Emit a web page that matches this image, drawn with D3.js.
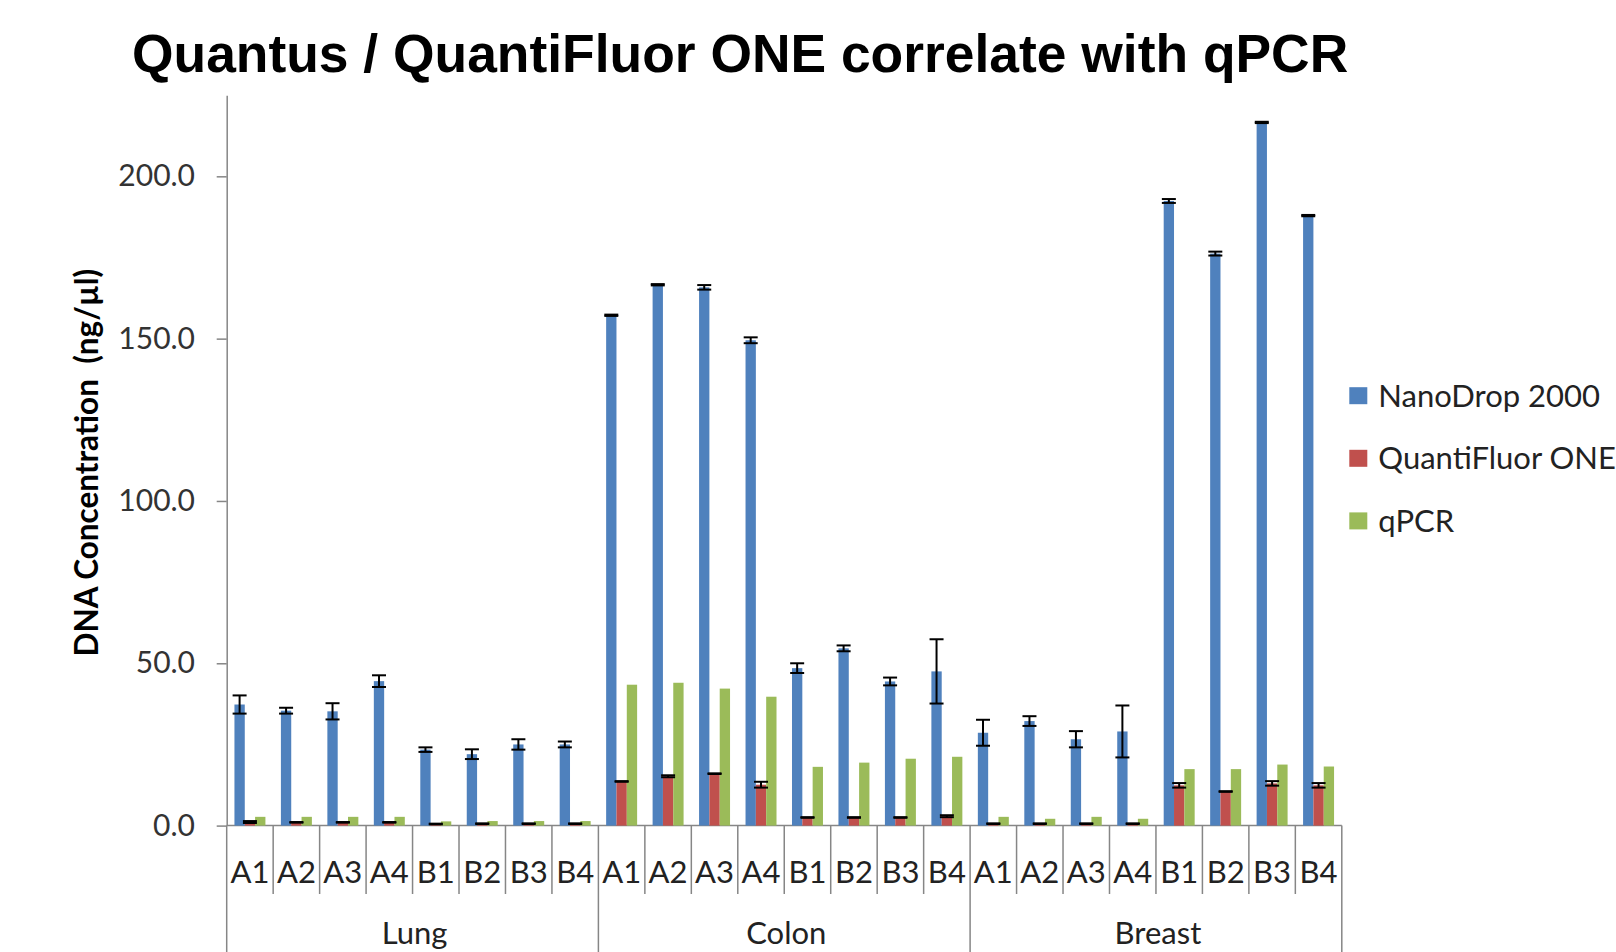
<!DOCTYPE html>
<html>
<head>
<meta charset="utf-8">
<script src="https://cdn.jsdelivr.net/npm/d3@7"></script>
<style>
  body { margin: 0; background: #fff; }
  svg { display: block; }
</style>
</head>
<body>
<div id="chart"></div>
<script>
// chart values
const groups = ["Lung", "Colon", "Breast"];
const samples = ["A1", "A2", "A3", "A4", "B1", "B2", "B3", "B4"];
const seriesNames = ["NanoDrop 2000", "QuantiFluor ONE", "qPCR"];
const seriesColors = ["#4F81BD", "#C0504D", "#9BBB59"];
const yTicks = [0, 50, 100, 150, 200];

// Lung | Colon | Breast, 8 samples each
const nanodrop = [
  37.3, 35.4, 35.2, 44.5, 23.4, 22.0, 25.0, 25.0,
  157.2, 166.6, 165.8, 149.5, 48.5, 54.6, 44.4, 47.5,
  28.6, 32.2, 26.6, 29.0, 192.4, 176.2, 216.6, 187.9
];
const nanodropErr = [
  2.8, 0.9, 2.5, 1.8, 0.7, 1.5, 1.6, 0.9,
  0.2, 0.2, 0.7, 0.9, 1.5, 0.9, 1.2, 9.9,
  4.0, 1.5, 2.5, 8.0, 0.6, 0.6, 0.2, 0.2
];
const quantifluor = [
  1.1, 1.0, 1.0, 1.0, 0.5, 0.6, 0.6, 0.6,
  13.6, 15.2, 16.0, 12.6, 2.5, 2.5, 2.5, 2.9,
  0.6, 0.6, 0.6, 0.6, 12.4, 10.5, 13.0, 12.4
];
const quantifluorErr = [
  0.3, 0.1, 0.1, 0.1, 0.1, 0.1, 0.1, 0.1,
  0.1, 0.3, 0.1, 0.9, 0.1, 0.1, 0.1, 0.3,
  0.1, 0.1, 0.1, 0.1, 0.7, 0.1, 0.7, 0.7
];
const qpcr = [
  2.7, 2.7, 2.7, 2.7, 1.3, 1.4, 1.4, 1.4,
  43.4, 44.0, 42.2, 39.7, 18.1, 19.4, 20.6, 21.2,
  2.7, 2.1, 2.7, 2.1, 17.4, 17.4, 18.8, 18.2
];

const W = 1616, H = 952;
const left = 226.7, right = 1341.8, base = 825.6;
const font = "Lato, 'Open Sans', sans-serif";

let svg = d3.select("#chart").append("svg")
    .attr("width", W)
    .attr("height", H)
    .style("background", "#fff");

// build rows: one per group/sample
let rows = [];
groups.forEach((g, gi) => {
    samples.forEach((s, si) => {
        let i = gi * samples.length + si;
        rows.push({
            key: g + "-" + s, group: g, sample: s,
            values: [
                {series: 0, v: nanodrop[i], err: nanodropErr[i]},
                {series: 1, v: quantifluor[i], err: quantifluorErr[i]},
                {series: 2, v: qpcr[i], err: null}
            ]
        });
    });
});

let x = d3.scaleBand().domain(rows.map(d => d.key)).range([left, right]).padding(0);
let xs = d3.scaleBand().domain([0, 1, 2]).range([0, x.bandwidth()])
    .paddingInner(0).paddingOuter(0.75);
let y = d3.scaleLinear().domain([0, 225]).range([base, base - 225 * 3.2464]);

// title
svg.append("text")
    .attr("x", 132).attr("y", 72)
    .style("font-family", "'Liberation Sans', Arial, sans-serif")
    .style("font-weight", "bold")
    .style("font-size", "53.4px")
    .attr("fill", "#000")
    .text("Quantus / QuantiFluor ONE correlate with qPCR");

// y axis
let yAxis = svg.append("g")
    .attr("transform", "translate(" + left + ",0)")
    .call(d3.axisLeft(y).tickValues(yTicks).tickFormat(d3.format(".1f"))
        .tickSize(10).tickSizeOuter(0).tickPadding(21.7));
yAxis.select(".domain").attr("stroke", "#868686").attr("stroke-width", 1.5);
yAxis.selectAll(".tick line").attr("stroke", "#868686").attr("stroke-width", 1.5);
yAxis.selectAll(".tick text")
    .style("font-family", font).style("font-size", "30px").attr("fill", "#333");

svg.append("text")
    .attr("transform", "translate(98,462.7) rotate(-90)")
    .attr("text-anchor", "middle")
    .style("font-family", font).style("font-weight", "bold").style("font-size", "31.5px")
    .style("white-space", "pre")
    .attr("fill", "#000")
    .text("DNA Concentration  (ng/µl)");

// category axis (two levels)
let cat = svg.append("g");
cat.append("line")
    .attr("x1", left).attr("x2", right).attr("y1", base).attr("y2", base)
    .attr("stroke", "#868686").attr("stroke-width", 1.5);
rows.forEach((d, i) => {
    let bx = x(d.key);
    cat.append("line")
        .attr("x1", bx).attr("x2", bx).attr("y1", base)
        .attr("y2", i % samples.length == 0 ? H : 894)
        .attr("stroke", "#868686").attr("stroke-width", 1.5);
    cat.append("text")
        .attr("x", bx + x.bandwidth() / 2).attr("y", 883.3)
        .attr("text-anchor", "middle")
        .style("font-family", font).style("font-size", "31px").attr("fill", "#222")
        .text(d.sample);
});
cat.append("line")
    .attr("x1", right).attr("x2", right).attr("y1", base).attr("y2", H)
    .attr("stroke", "#868686").attr("stroke-width", 1.5);
groups.forEach(g => {
    let first = x(g + "-" + samples[0]);
    let last = x(g + "-" + samples[samples.length - 1]) + x.bandwidth();
    cat.append("text")
        .attr("x", (first + last) / 2 + 2).attr("y", 944)
        .attr("text-anchor", "middle")
        .style("font-family", font).style("font-size", "31px").attr("fill", "#222")
        .text(g);
});

// bars
let cells = svg.append("g").selectAll("g.cell")
    .data(rows)
    .enter().append("g")
    .attr("class", "cell")
    .attr("transform", d => "translate(" + x(d.key) + ",0)");

cells.selectAll("rect")
    .data(d => d.values)
    .enter().append("rect")
    .attr("x", d => xs(d.series))
    .attr("width", xs.bandwidth())
    .attr("y", d => y(d.v))
    .attr("height", d => base - y(d.v))
    .attr("fill", d => seriesColors[d.series]);

// error bars
let errs = cells.selectAll("g.err")
    .data(d => d.values.filter(v => v.err != null))
    .enter().append("g")
    .attr("class", "err")
    .attr("stroke", "#000")
    .attr("stroke-width", 2);
errs.append("line")
    .attr("x1", d => xs(d.series) + xs.bandwidth() / 2)
    .attr("x2", d => xs(d.series) + xs.bandwidth() / 2)
    .attr("y1", d => y(d.v + d.err))
    .attr("y2", d => y(Math.max(0, d.v - d.err)));
errs.append("line")
    .attr("x1", d => xs(d.series) + xs.bandwidth() / 2 - 7)
    .attr("x2", d => xs(d.series) + xs.bandwidth() / 2 + 7)
    .attr("y1", d => y(d.v + d.err))
    .attr("y2", d => y(d.v + d.err));
errs.append("line")
    .attr("x1", d => xs(d.series) + xs.bandwidth() / 2 - 7)
    .attr("x2", d => xs(d.series) + xs.bandwidth() / 2 + 7)
    .attr("y1", d => y(Math.max(0, d.v - d.err)))
    .attr("y2", d => y(Math.max(0, d.v - d.err)));

// legend
let legend = svg.append("g").selectAll("g")
    .data(seriesNames)
    .enter().append("g")
    .attr("transform", (d, i) => "translate(1349.3," + (395.7 + i * 62.6) + ")");
legend.append("rect")
    .attr("x", 0).attr("y", -8.5).attr("width", 18).attr("height", 17)
    .attr("fill", (d, i) => seriesColors[i]);
legend.append("text")
    .attr("x", 29).attr("dy", "0.35em")
    .style("font-family", font).style("font-size", "31px").attr("fill", "#222")
    .text(d => d);
</script>
</body>
</html>
